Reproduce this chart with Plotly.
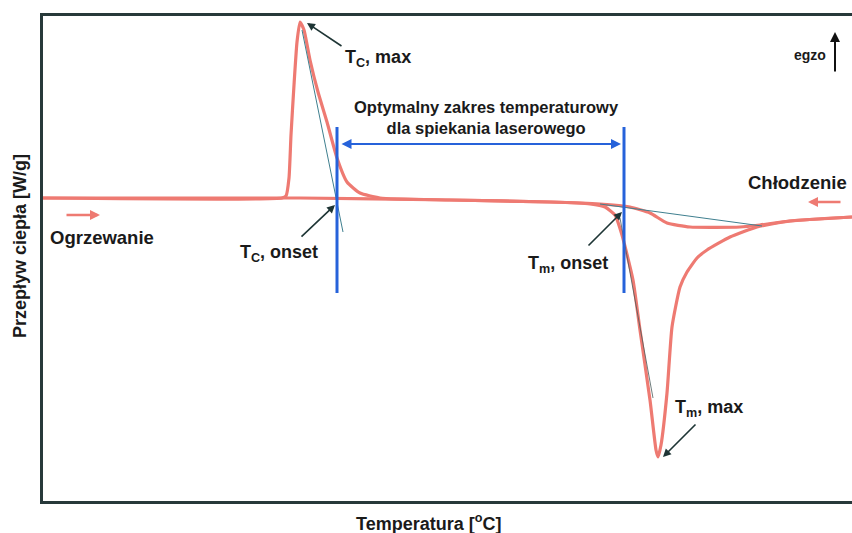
import plotly.graph_objects as go

# Temperature (a.u.) and heat flow (a.u., exo up)
heat_T = [0, 257, 407, 507, 547, 562, 572, 579, 590, 597, 607, 613, 615, 618, 624, 629, 637, 644, 654, 664, 687, 714, 747, 809]
heat_q = [0, 0, -2, -4, -6, -9, -17, -37, -82, -132, -202, -252, -259, -247, -195, -129, -89, -74, -60, -52, -39, -29, -23, -19]

cool_T = [0, 239, 243, 246, 248, 251, 254, 257, 261, 267, 275, 284, 294, 304, 317, 337, 407, 507, 557, 587, 607, 624, 647, 697, 717, 747, 809]
cool_q = [0, 0, 2, 20, 63, 113, 156, 176, 168, 138, 106, 76, 40, 16, 5, 0, -2, -4, -6, -9, -15, -25, -29, -29, -27, -23, -19]

# construction lines
tan_c_T = [259, 300]
tan_c_q = [168, -34]
base_m_T = [557, 719]
base_m_q = [-6, -28]
tan_m_T = [577, 610]
tan_m_q = [-20, -200]

# laser sintering window (onset temperatures)
window_T = [294, 581]
window_q = [71, -95]
window_arrow_q = 54

RED = "rgb(238,122,114)"
BLUE = "rgb(38,98,218)"
DARK = "#1e3535"
TXT = "#1a1a1a"
FONT = "Liberation Sans, Arial, sans-serif"

fig = go.Figure()
fig.add_trace(go.Scatter(x=cool_T, y=cool_q, mode="lines",
                         line=dict(color=RED, width=3.2, shape="spline", smoothing=0.5),
                         hoverinfo="skip", showlegend=False))
fig.add_trace(go.Scatter(x=heat_T, y=heat_q, mode="lines",
                         line=dict(color=RED, width=3.2, shape="spline", smoothing=0.5),
                         hoverinfo="skip", showlegend=False))
fig.add_trace(go.Scatter(x=tan_c_T, y=tan_c_q, mode="lines",
                         line=dict(color="#3f7f8f", width=1), showlegend=False, hoverinfo="skip"))
fig.add_trace(go.Scatter(x=base_m_T, y=base_m_q, mode="lines",
                         line=dict(color="#3f7f8f", width=1), showlegend=False, hoverinfo="skip"))
fig.add_trace(go.Scatter(x=tan_m_T, y=tan_m_q, mode="lines",
                         line=dict(color="#4a5a5a", width=0.8), showlegend=False, hoverinfo="skip"))
for t in window_T:
    fig.add_trace(go.Scatter(x=[t, t], y=window_q, mode="lines",
                             line=dict(color=BLUE, width=3), showlegend=False, hoverinfo="skip"))

annos = []
# double arrow between onsets
annos.append(dict(x=window_T[1] - 3, y=window_arrow_q, ax=window_T[0] + 3, ay=window_arrow_q,
                  xref="x", yref="y", axref="x", ayref="y", text="", showarrow=True,
                  arrowhead=2, startarrowhead=2, arrowside="end+start", arrowsize=1,
                  arrowwidth=2, arrowcolor=BLUE))

def arrow(tip, tail, color=DARK, width=1.6, head=2, size=1):
    annos.append(dict(x=tip[0], y=tip[1], ax=tail[0], ay=tail[1], xref="x", yref="y",
                      axref="x", ayref="y", text="", showarrow=True, arrowhead=head,
                      arrowsize=size, arrowwidth=width, arrowcolor=color))

arrow((264, 175), (300, 151))       # Tc max
arrow((292, -7), (257, -40))        # Tc onset
arrow((579, -14), (544, -49))       # Tm onset
arrow((620, -259), (654, -225))     # Tm max
arrow((792, 166), (792, 125), color="#111", width=2)   # egzo
arrow((57, -17), (22, -17), color=RED, width=2.5, size=0.8)     # heating direction
arrow((765, -4), (799, -4), color=RED, width=2.5, size=0.8)     # cooling direction

def label(x, y, text, size=16, xanchor="center"):
    annos.append(dict(x=x, y=y, xref="x", yref="y", text=text, showarrow=False,
                      xanchor=xanchor, yanchor="middle",
                      font=dict(family=FONT, size=size, color=TXT, weight="bold")))

label(300, 140, "T<sub>C</sub>, max", 18, "left")
label(443, 81, "Optymalny zakres temperaturowy<br>dla spiekania laserowego", 16.5)
label(236, -55, "T<sub>C</sub>, onset", 18)
label(525, -66, "T<sub>m</sub>, onset", 18)
label(666, -210, "T<sub>m</sub>, max", 18)
label(5, -39, "Ogrzewanie", 18.5, "left")
label(806, 16, "Chłodzenie", 18.5, "right")
label(767, 143, "egzo", 14)

# axis titles
annos.append(dict(x=385, y=0, xref="x", yref="paper", yanchor="top", yshift=-8,
                  text="Temperatura [<sup>o</sup>C]", showarrow=False,
                  font=dict(family=FONT, size=18, color=TXT, weight="bold")))
annos.append(dict(x=0, y=-48, xref="paper", yref="y", xanchor="center", xshift=-23,
                  text="Przepływ ciepła [W/g]", textangle=-90, showarrow=False,
                  font=dict(family=FONT, size=18, color=TXT, weight="bold")))

fig.update_layout(
    width=852, height=533,
    margin=dict(l=43, r=0, t=16, b=32),
    paper_bgcolor="white", plot_bgcolor="white",
    annotations=annos,
    xaxis=dict(range=[0, 809], showgrid=False, zeroline=False, showticklabels=False,
               ticks="", showline=True, mirror=True, linecolor="#27393a", linewidth=2.5),
    yaxis=dict(range=[-303, 182], showgrid=False, zeroline=False, showticklabels=False,
               ticks="", showline=True, mirror=False, linecolor="#27393a", linewidth=2.5),
)

fig.write_html("out.html", config={"displayModeBar": False},
               post_script="document.body.style.margin='0';document.body.style.padding='0';document.body.style.overflow='hidden';")
